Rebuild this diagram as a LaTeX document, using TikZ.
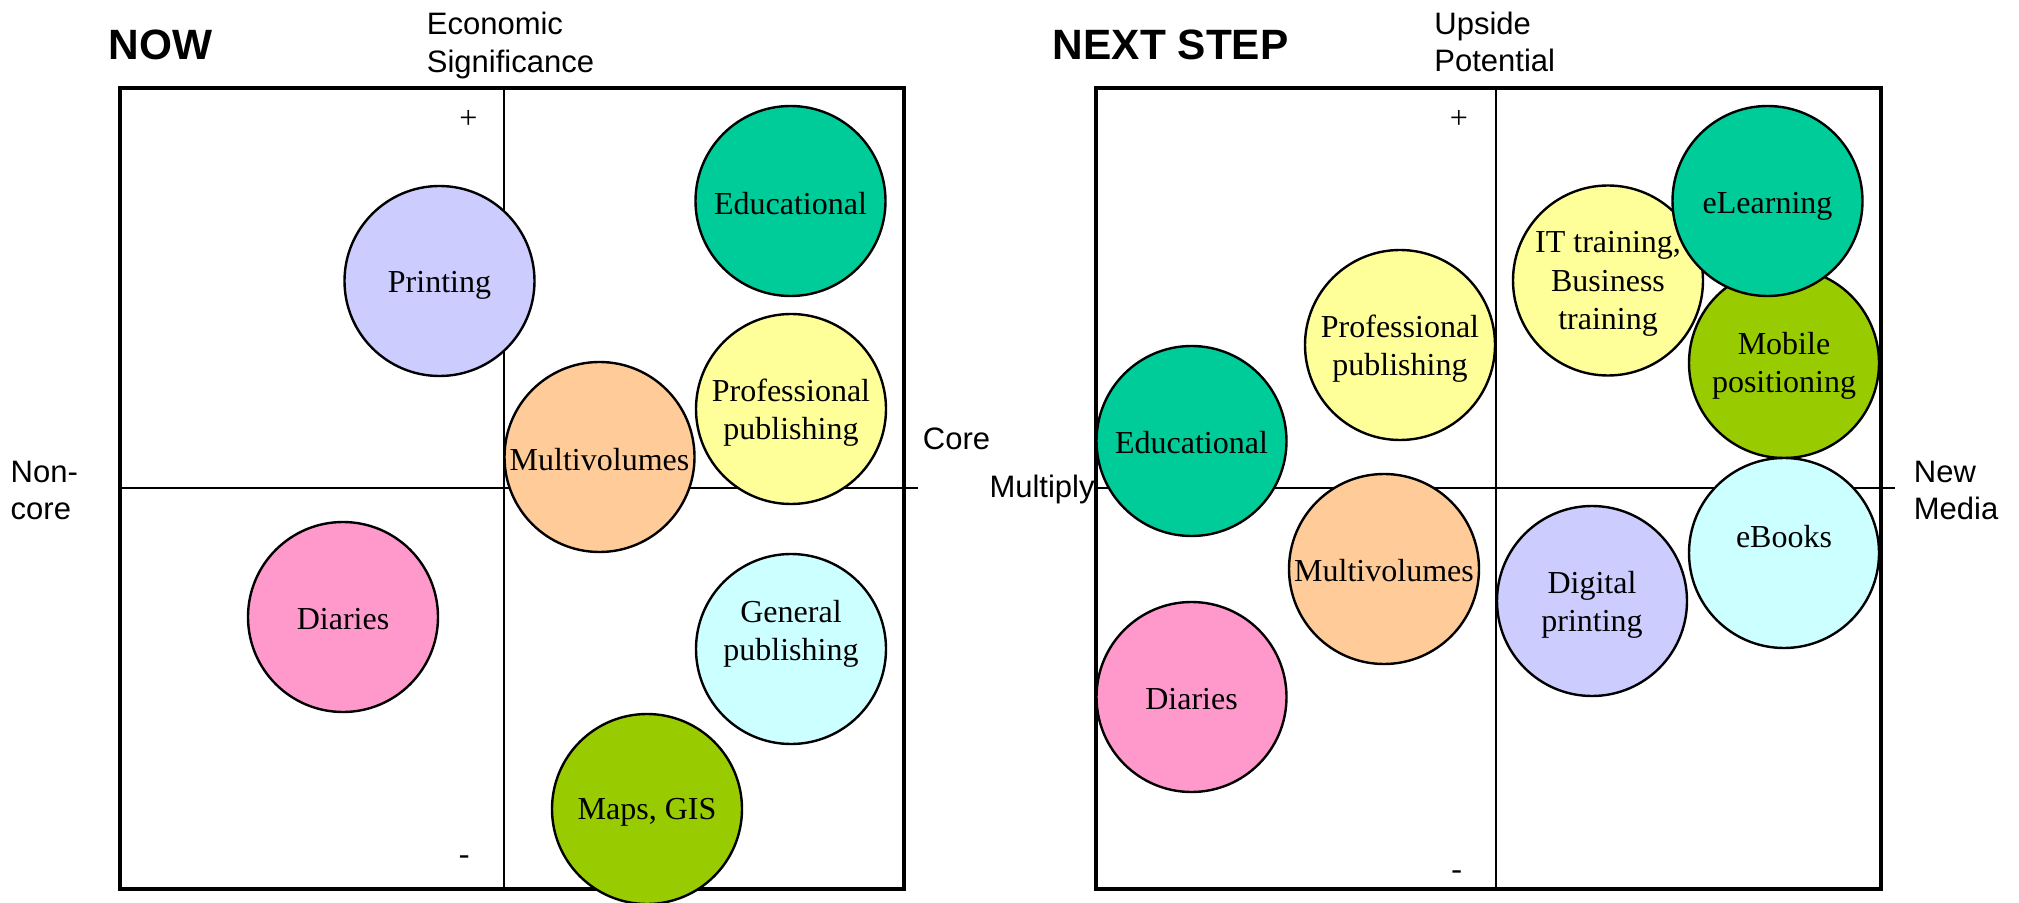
\documentclass[tikz,border=0pt]{standalone}
\usepackage{fontspec}
\setmainfont{Liberation Serif}
\setsansfont{Liberation Sans}
\definecolor{lavender}{HTML}{CCCCFF}
\definecolor{seagreen}{HTML}{00CC99}
\definecolor{paleyellow}{HTML}{FFFF99}
\definecolor{apricot}{HTML}{FFCC99}
\definecolor{pink}{HTML}{FF99CC}
\definecolor{palecyan}{HTML}{CCFFFF}
\definecolor{lime}{HTML}{99CC00}
\begin{document}
\begin{tikzpicture}[x=0.5pt,y=-0.5pt,
  frame/.style={line width=1.6pt},
  axis/.style={line width=1pt},
  bubbletext/.style={inner sep=0pt,align=center,font=\rmfamily\fontsize{16pt}{19.25pt}\selectfont},
  % a filled disc whose caption sits at its centre, moved by an optional shift
  bubble/.style n args={2}{circle,draw,line width=1.2pt,minimum size=95pt,inner sep=0pt,
    label={[bubbletext,yshift=#1]center:#2}},
  lbl/.style={inner sep=0pt,align=left,anchor=base west,font=\sffamily\fontsize{15.5pt}{18.75pt}\selectfont},
  heading/.style={inner sep=0pt,anchor=base west,font=\sffamily\bfseries\fontsize{21.2pt}{25pt}\selectfont},
  sign/.style={inner sep=0pt,anchor=base,font=\rmfamily\fontsize{16pt}{19pt}\selectfont}
]
\useasboundingbox (0,0) rectangle (2019,903);

% ---------- NOW panel ----------
\coordinate (nowNW) at (120,88);
\coordinate (nowSE) at (904,889);
\coordinate (nowTop) at (504,88);
\coordinate (nowBot) at (504,889);
\coordinate (nowL) at (120,488.3);
\coordinate (nowR) at (918,488.3);
\draw[frame] (nowNW) rectangle (nowSE);
\draw[axis] (nowTop) -- (nowBot);
\draw[axis] (nowL) -- (nowR);

\node[bubble={-2pt}{Printing},fill=lavender]                 (printing) at (439.5,281) {};
\node[bubble={-1.5pt}{Educational},fill=seagreen]            (educ)     at (790.5,201) {};
\node[bubble={-1.75pt}{Professional\\publishing},fill=paleyellow] (profpub) at (791,409) {};
\node[bubble={-1.5pt}{Multivolumes},fill=apricot]            (multivol) at (599.5,457) {};
\node[bubble={-1pt}{Diaries},fill=pink]                      (diaries)  at (343,617)   {};
\node[bubble={7.5pt}{General\\publishing},fill=palecyan]     (genpub)   at (791,649)   {};
\node[bubble={-1.5pt}{Maps, GIS},fill=lime]                  (maps)     at (647,809)   {};

\node[heading] (now) at (108,60) {NOW};
\node[lbl] (econ) at (426.5,72.5) {Economic\\Significance};
\node[lbl] (noncore) at (10.3,519.5) {Non-\\core};
\node[lbl] (core) at (922.5,449.3) {Core};
\node[sign] (nowplus) at (468.5,128.8) {+};
\node[sign] (nowminus) at (464.3,864) {-};

% ---------- NEXT STEP panel ----------
\coordinate (nextNW) at (1096,88);
\coordinate (nextSE) at (1881,889);
\coordinate (nextTop) at (1496.3,88);
\coordinate (nextBot) at (1496.3,889);
\coordinate (nextL) at (1096,488.3);
\coordinate (nextR) at (1895,488.3);
\draw[frame] (nextNW) rectangle (nextSE);
\draw[axis] (nextTop) -- (nextBot);
\draw[axis] (nextL) -- (nextR);

\node[bubble={-1pt}{Educational},fill=seagreen]              (educB)     at (1191.5,441) {};
\node[bubble={-1.75pt}{Professional\\publishing},fill=paleyellow] (profpubB) at (1400,345) {};
\node[bubble={-1.75pt}{IT training,\\Business\\training},fill=paleyellow] (ittrain) at (1608,280.5) {};
\node[bubble={-1.5pt}{Mobile\\positioning},fill=lime]        (mobile)    at (1784,363)   {};
\node[bubble={-2.5pt}{eLearning},fill=seagreen]              (elearn)    at (1767.5,201) {};
\node[bubble={8pt}{eBooks},fill=palecyan]                    (ebooks)    at (1784,553)   {};
\node[bubble={-2pt}{Digital\\printing},fill=lavender]        (digital)   at (1592,601)   {};
\node[bubble={-1pt}{Multivolumes},fill=apricot]              (multivolB) at (1384,569)   {};
\node[bubble={-1pt}{Diaries},fill=pink]                      (diariesB)  at (1191.5,697) {};

\node[heading] (nextstep) at (1052.5,60) {NEXT STEP};
\node[lbl] (upside) at (1434,72) {Upside\\Potential};
\node[lbl] (newmedia) at (1913.5,519.5) {New\\Media};
\node[lbl,anchor=base east] (multiply) at (1095,497.3) {Multiply};
\node[sign] (nextplus) at (1459,128.8) {+};
\node[sign] (nextminus) at (1456.7,879.7) {-};
\end{tikzpicture}
\end{document}
